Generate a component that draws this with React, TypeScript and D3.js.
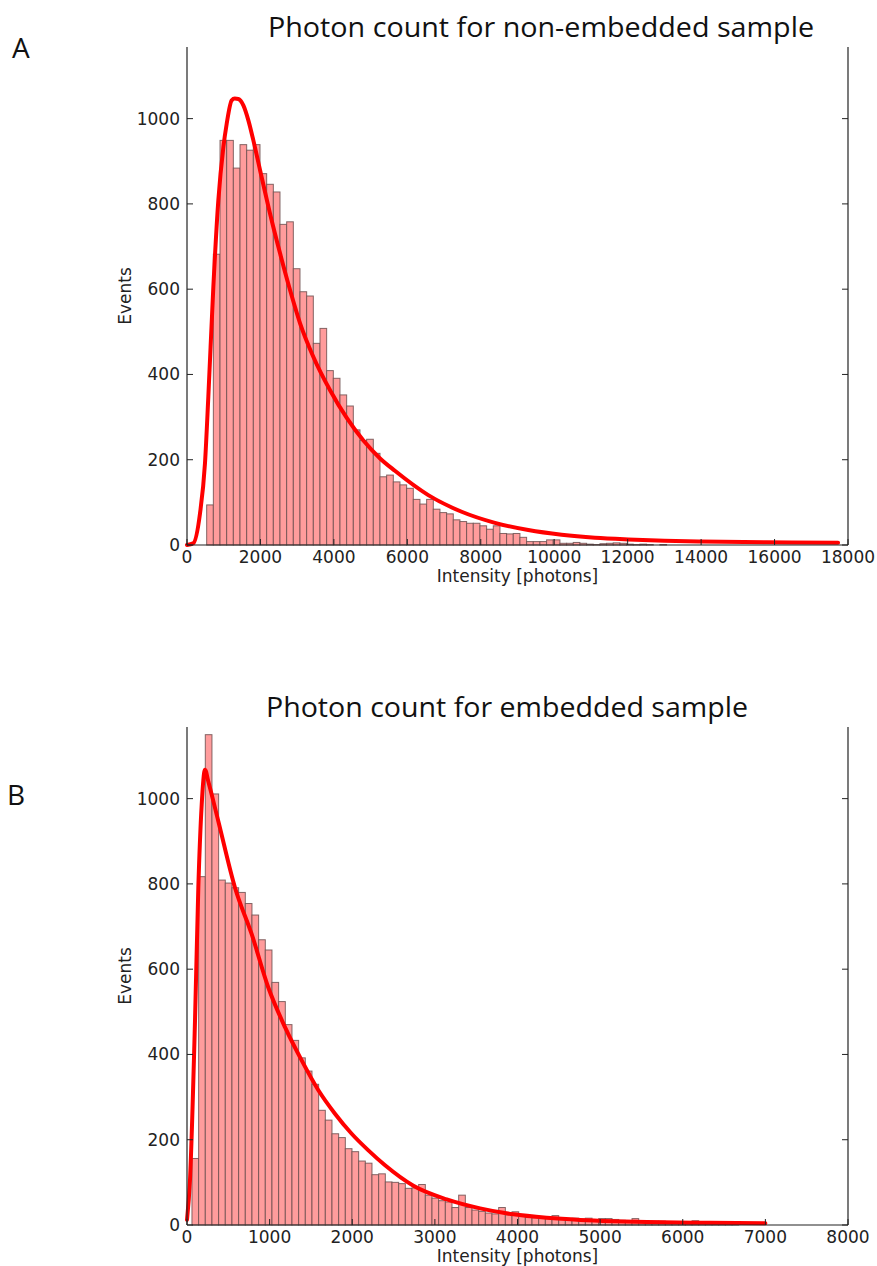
import React from "react";
import * as d3 from "d3";

// ---------- Data ----------
// Panel A: non-embedded sample
const A_BIN_START = 536; // photons
const A_BIN_WIDTH = 181.5; // photons
const A_COUNTS = [
  94, 682, 949, 949, 884, 939, 926, 939, 871, 846, 828, 752, 758, 648, 594, 584,
  473, 508, 409, 391, 352, 326, 270, 245, 248, 215, 160, 164, 148, 141, 133, 107,
  96, 107, 84, 76, 73, 59, 55, 51, 51, 45, 37, 45, 27, 26, 27, 18, 8, 8, 8, 12,
  12, 4, 4, 6, 4, 2, 1, 3, 4, 5, 4, 2, 1, 2, 1, 0, 1,
];
const A_FIT_X = [
  0, 170, 354, 490, 581, 717, 853, 990, 1081, 1217, 1300, 1399, 1535, 1671, 1807,
  1990, 2262, 2534, 2806, 3079, 3442, 3896, 4350, 4804, 5258, 5662, 6570, 7479,
  8386, 9294, 10202, 11110, 12018, 13000, 14000, 15780, 17730,
];
const A_FIT_Y = [
  0, 4, 74, 192, 348, 605, 808, 933, 988, 1043, 1047, 1046, 1031, 996, 949, 879,
  777, 684, 598, 520, 441, 363, 298, 245, 203, 174, 117, 78, 52, 35, 24, 17, 13,
  10, 8, 6.5, 5.5,
];
const A_XTICKS = [0, 2000, 4000, 6000, 8000, 10000, 12000, 14000, 16000, 18000];

// Panel B: embedded sample
const B_BIN_START = 60; // photons
const B_BIN_WIDTH = 80.7; // photons
const B_COUNTS = [
  156, 817, 1150, 1011, 809, 802, 791, 780, 754, 727, 669, 645, 569, 524, 470,
  433, 392, 361, 330, 269, 246, 214, 205, 179, 172, 150, 145, 118, 120, 101, 100,
  97, 86, 87, 95, 70, 63, 57, 54, 41, 70, 41, 35, 32, 28, 26, 41, 24, 31, 22, 18,
  17, 16, 15, 22, 15, 13, 16, 14, 16, 10, 15, 15, 13, 11, 10, 15, 10, 9, 9, 9, 8,
  7, 8, 5, 10, 5, 3, 2, 2, 1, 1,
];
const B_FIT_X = [
  0, 36, 97, 137, 178, 218, 258, 379, 581, 783, 984, 1186, 1388, 1590, 1791, 1993,
  2195, 2397, 2740, 3144, 3547, 3950, 4354, 4758, 5161, 5565, 6332, 7000,
];
const B_FIT_Y = [
  12, 105, 480, 791, 986, 1068, 1040, 947, 791, 682, 557, 464, 386, 316, 261, 214,
  175, 140, 92, 60, 39, 25, 17, 12, 9, 7, 5, 4,
];
const B_XTICKS = [0, 1000, 2000, 3000, 4000, 5000, 6000, 7000, 8000];

const Y_TICKS = [0, 200, 400, 600, 800, 1000];
const Y_MAX = 1168;

type PanelProps = {
  top: number;
  bottom: number;
  xMax: number;
  xTicks: number[];
  binStart: number;
  binWidth: number;
  counts: number[];
  fitX: number[];
  fitY: number[];
  title: string;
  titleX: number;
  titleY: number;
  titleLen: number;
  letter: string;
  letterX: number;
  letterY: number;
};

const LEFT = 187;
const RIGHT = 848;
const TICK_FONT = "'DejaVu Sans', sans-serif";
const TITLE_FONT = "'Open Sans', 'Noto Sans', sans-serif";

function Panel(p: PanelProps) {
  const x = d3.scaleLinear().domain([0, p.xMax]).range([LEFT, RIGHT]);
  const y = d3.scaleLinear().domain([0, Y_MAX]).range([p.bottom, p.top]);
  const line = d3
    .line<number>()
    .x((_, i) => x(p.fitX[i]))
    .y((d) => y(d))
    .curve(d3.curveMonotoneX);
  const bw = x(p.binWidth) - x(0);
  return (
    <g>
      <text
        x={p.letterX}
        y={p.letterY}
        fontFamily={TITLE_FONT}
        fontSize={28}
        fill="#111"
      >
        {p.letter}
      </text>
      <text
        x={p.titleX}
        y={p.titleY}
        fontFamily={TITLE_FONT}
        fontSize={27}
        fill="#111"
        textLength={p.titleLen}
        lengthAdjust="spacingAndGlyphs"
      >
        {p.title}
      </text>
      {p.counts.map((c, i) =>
        c > 0 ? (
          <rect
            key={i}
            x={x(p.binStart + i * p.binWidth)}
            y={y(c)}
            width={bw}
            height={p.bottom - y(c)}
            fill="#ff9c9c"
            stroke="#6e5050"
            strokeOpacity={0.85}
            strokeWidth={1}
          />
        ) : null
      )}
      <path
        d={line(p.fitY) || ""}
        fill="none"
        stroke="#ff0000"
        strokeWidth={4}
        strokeLinejoin="round"
        strokeLinecap="round"
      />
      {/* spines */}
      <line x1={LEFT} x2={LEFT} y1={p.top} y2={p.bottom} stroke="#222" strokeWidth={1.2} />
      <line x1={RIGHT} x2={RIGHT} y1={p.top} y2={p.bottom} stroke="#222" strokeWidth={1.2} />
      <line x1={LEFT} x2={RIGHT} y1={p.bottom} y2={p.bottom} stroke="#222" strokeWidth={1.2} />
      {/* y ticks */}
      {Y_TICKS.map((t) => (
        <g key={"y" + t}>
          <line x1={LEFT} x2={LEFT + 6} y1={y(t)} y2={y(t)} stroke="#222" strokeWidth={1} />
          <line x1={RIGHT} x2={RIGHT - 6} y1={y(t)} y2={y(t)} stroke="#222" strokeWidth={1} />
          <text
            x={LEFT - 7}
            y={y(t)}
            textAnchor="end"
            dominantBaseline="central"
            fontFamily={TICK_FONT}
            fontSize={17}
            fill="#222"
          >
            {t}
          </text>
        </g>
      ))}
      {/* x ticks */}
      {p.xTicks.map((t) => (
        <g key={"x" + t}>
          <line x1={x(t)} x2={x(t)} y1={p.bottom} y2={p.bottom - 6} stroke="#222" strokeWidth={1} />
          <text
            x={x(t)}
            y={p.bottom + 18}
            textAnchor="middle"
            fontFamily={TICK_FONT}
            fontSize={17}
            fill="#222"
          >
            {t}
          </text>
        </g>
      ))}
      <text
        x={(LEFT + RIGHT) / 2}
        y={p.bottom + 37}
        textAnchor="middle"
        fontFamily={TICK_FONT}
        fontSize={17}
        fill="#222"
      >
        Intensity [photons]
      </text>
      <text
        transform={`translate(125,${(p.top + p.bottom) / 2}) rotate(-90)`}
        textAnchor="middle"
        dominantBaseline="central"
        fontFamily={TICK_FONT}
        fontSize={17}
        fill="#222"
      >
        Events
      </text>
    </g>
  );
}

export default function App() {
  return (
    <svg
      width={877}
      height={1266}
      style={{ position: "absolute", left: 0, top: 0, background: "#fff" }}
    >
      <rect x={0} y={0} width={877} height={1266} fill="#fff" />
      <Panel
        top={47}
        bottom={545}
        xMax={18000}
        xTicks={A_XTICKS}
        binStart={A_BIN_START}
        binWidth={A_BIN_WIDTH}
        counts={A_COUNTS}
        fitX={A_FIT_X}
        fitY={A_FIT_Y}
        title="Photon count for non-embedded sample"
        titleX={268}
        titleY={37}
        titleLen={546}
        letter="A"
        letterX={12}
        letterY={58}
      />
      <Panel
        top={727}
        bottom={1225}
        xMax={8000}
        xTicks={B_XTICKS}
        binStart={B_BIN_START}
        binWidth={B_BIN_WIDTH}
        counts={B_COUNTS}
        fitX={B_FIT_X}
        fitY={B_FIT_Y}
        title="Photon count for embedded sample"
        titleX={266}
        titleY={717}
        titleLen={482}
        letter="B"
        letterX={7}
        letterY={805}
      />
    </svg>
  );
}
